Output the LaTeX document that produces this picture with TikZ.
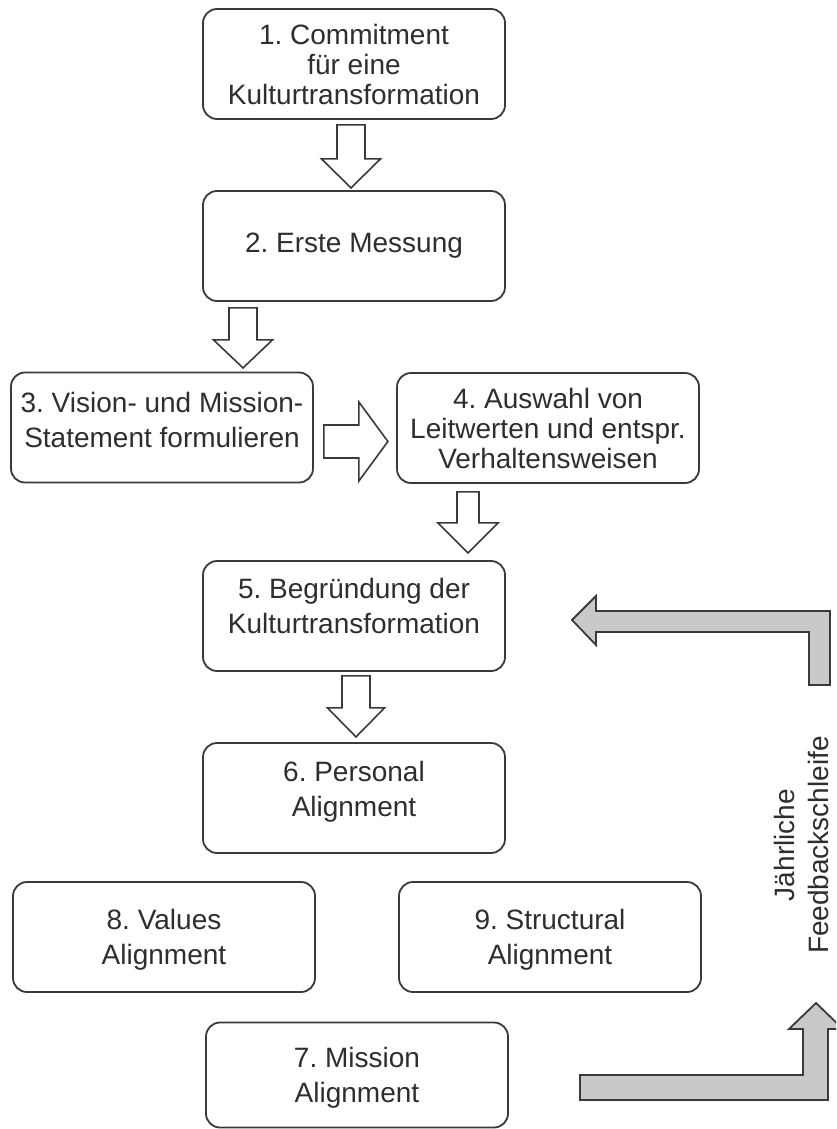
\documentclass[tikz,border=0pt]{standalone}
\usepackage{fontspec}
\setmainfont{Liberation Sans}
\usetikzlibrary{calc}
\frenchspacing

\definecolor{edge}{HTML}{3A3A3A}
\definecolor{ink}{HTML}{2E2E2E}
\definecolor{loopfill}{HTML}{C7C9CB}

% hollow block arrow pointing down: tail point, length, shaft half-width, head half-width, head length
\newcommand{\downblock}[5]{%
  \draw[hollow] (#1) ++(-#3,0) -- ++(0,#2-#5) -- ++(#3-#4,0) -- ++(#4,#5)
    -- ++(#4,-#5) -- ++(#3-#4,0) -- ++(0,-#2+#5) -- cycle;}
% hollow block arrow pointing right
\newcommand{\rightblock}[5]{%
  \draw[hollow] (#1) ++(0,-#3) -- ++(#2-#5,0) -- ++(0,#3-#4) -- ++(#5,#4)
    -- ++(-#5,#4) -- ++(0,#3-#4) -- ++(-#2+#5,0) -- cycle;}

\begin{document}
\begin{tikzpicture}[x=0.5pt,y=-0.5pt,
  stage/.style={draw=edge, line width=0.9pt, rounded corners=7pt,
    minimum width=151pt, minimum height=55pt, inner sep=0pt,
    align=center, text=ink, font=\fontsize{14pt}{17.5pt}\selectfont},
  threeline/.style={font=\fontsize{14pt}{15pt}\selectfont},
  hollow/.style={draw=edge, line width=0.8pt, fill=white, line join=miter},
  loop/.style={draw=edge, line width=0.9pt, fill=loopfill, line join=miter}]

\clip (0,0) rectangle (836,1129);
\fill[white] (0,0) rectangle (836,1129);

% process steps
\node[stage, threeline] (b1) at (354,64) {1. Commitment\\für eine\\Kulturtransformation};
\node[stage] (b2) at (354,246)  {2. Erste Messung};
\node[stage, text depth=8pt] (b3) at (162,427.5){3. Vision- und Mission-\\Statement formulieren};
\node[stage, threeline] (b4) at (548,428) {4. Auswahl von\\Leitwerten und entspr.\\Verhaltensweisen};
\node[stage, text depth=10.5pt] (b5) at (354,616) {5. Begründung der\\Kulturtransformation};
\node[stage, text depth=9pt] (b6) at (354,798) {6. Personal\\Alignment};
\node[stage, text depth=0pt] (b8) at (164,937) {8. Values\\Alignment};
\node[stage, text depth=0pt] (b9) at (550,937) {9. Structural\\Alignment};
\node[stage, text depth=0pt, minimum height=52.5pt] (b7) at (357,1075) {7. Mission\\Alignment};

% hollow arrows between the steps
\coordinate (a1) at ($(b1.south)+(-3,5)$);
\coordinate (a2) at ($(b2.south)+(-111,6)$);
\coordinate (a3) at ($(b3.east)+(10,14)$);
\coordinate (a4) at ($(b4.south)+(-80,8)$);
\coordinate (a5) at ($(b5.south)+(2,4)$);
\downblock{a1}{63}{14}{29.5}{29}
\downblock{a2}{60}{14}{29.5}{28}
\rightblock{a3}{64}{16.5}{39.5}{29}
\downblock{a4}{61}{11}{30}{30}
\downblock{a5}{61}{14}{28.5}{29}

% yearly feedback loop
\draw[loop] (580,1075) -- (803,1075) -- (803,1029) -- (789,1029) -- (816,1003)
  -- (843,1029) -- (828,1029) -- (828,1100) -- (580,1100) -- cycle;
\draw[loop] (572,620) -- (596,596) -- (596,611) -- (830,611) -- (830,685)
  -- (809,685) -- (809,632) -- (596,632) -- (596,645) -- cycle;

\node[rotate=90, align=center, text=ink, inner sep=0pt,
  font=\fontsize{14pt}{17pt}\selectfont] (fb) at (801,845)
  {Jährliche\\Feedbackschleife};

\end{tikzpicture}
\end{document}
